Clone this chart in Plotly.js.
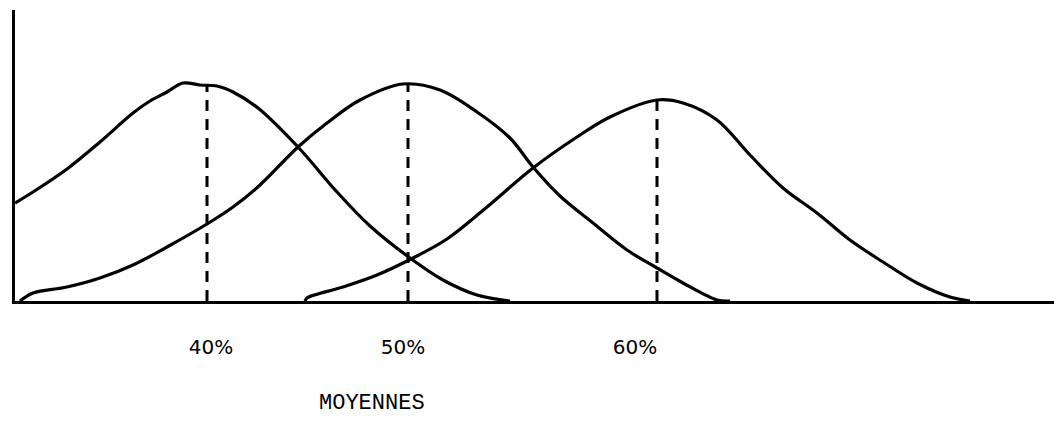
<!DOCTYPE html>
<html>
<head>
<meta charset="utf-8">
<script src="https://cdn.plot.ly/plotly-3.0.1.min.js"></script>
<style>html,body{margin:0;padding:0;background:#fff;}#chart{width:1054px;height:433px;}</style>
</head>
<body>
<div id="chart"></div>
<script>
// Horizontal unit: arbitrary drawing scale; vertical: relative frequency (arbitrary units)
const curve40X = [0, 1.8, 5.2, 8.5, 11.8, 13.5, 15.2, 16.8, 18.5, 20.2, 21.8, 24.3, 28.3, 32.2, 35.5, 39.5, 42.8, 46.2, 49.5];
const curve40Y = [9.8, 10.9, 13.2, 15.9, 18.8, 20.0, 20.9, 21.8, 21.6, 21.5, 20.9, 19.3, 15.4, 10.9, 7.5, 4.3, 2.1, 0.6, 0];

const curve50X = [0.5, 1.8, 5.2, 8.5, 11.8, 15.2, 19.2, 21.8, 24.5, 28.3, 31.2, 34.5, 38.8, 42.5, 46.2, 49.5, 51.8, 54.5, 57.8, 61.2, 64.2, 66.8, 70.2, 71.5];
const curve50Y = [0, 0.8, 1.4, 2.3, 3.6, 5.4, 7.7, 9.4, 11.6, 15.4, 17.8, 20.1, 21.7, 21.1, 18.9, 16.3, 13.4, 10.5, 7.8, 5.1, 3.3, 1.8, 0.1, 0];

const curve60X = [29, 29.2, 32.8, 36.2, 39.8, 43.2, 47.2, 51.8, 56.2, 59.5, 64.2, 66.8, 70.2, 73.5, 76.8, 80.2, 83.5, 86.8, 90.2, 93.5, 95.5];
const curve60Y = [0, 0.3, 1.4, 2.6, 4.3, 6.2, 9.4, 13.3, 16.4, 18.4, 20.1, 19.8, 18.1, 14.6, 11.3, 8.8, 6.1, 3.9, 1.8, 0.4, 0];

const meanX = [19.2, 39.3, 64.2];
const meanTop = [21.6, 21.7, 20.1];

const tickPos = [19.6, 38.8, 62.0];
const tickLabels = ['40%', '50%', '60%'];
const axisTitle = 'MOYENNES';
const axisTitleX = 35.7;

const lineStyle = {color: '#000', width: 3.2, shape: 'spline', smoothing: 1};
const traces = [
  {x: curve40X, y: curve40Y, mode: 'lines', line: lineStyle, hoverinfo: 'skip'},
  {x: curve50X, y: curve50Y, mode: 'lines', line: lineStyle, hoverinfo: 'skip'},
  {x: curve60X, y: curve60Y, mode: 'lines', line: lineStyle, hoverinfo: 'skip'}
];
meanX.forEach((mx, i) => {
  traces.push({x: [mx, mx], y: [0, meanTop[i]], mode: 'lines',
    line: {color: '#000', width: 3, dash: '11px,8px'}, hoverinfo: 'skip'});
});

const layout = {
  width: 1054, height: 433,
  margin: {l: 15, r: 0, t: 10, b: 132},
  paper_bgcolor: '#fff', plot_bgcolor: '#fff',
  showlegend: false,
  xaxis: {
    range: [0, 103.9], showgrid: false, zeroline: false,
    showline: true, linecolor: '#000', linewidth: 3,
    tickvals: tickPos, ticktext: tickLabels, ticks: '',
    ticklabelstandoff: 26,
    tickfont: {family: 'DejaVu Sans', size: 20, color: '#000'}
  },
  yaxis: {
    range: [0, 29.1], showgrid: false, zeroline: false,
    showline: true, linecolor: '#000', linewidth: 3,
    showticklabels: false, ticks: ''
  },
  annotations: [{
    text: axisTitle, xref: 'x', yref: 'paper', x: axisTitleX, y: 0,
    yshift: -102, showarrow: false, xanchor: 'center', yanchor: 'middle',
    font: {family: 'Liberation Mono', size: 22, color: '#000'}
  }]
};

Plotly.newPlot('chart', traces, layout, {staticPlot: true, displayModeBar: false});
</script>
</body>
</html>
